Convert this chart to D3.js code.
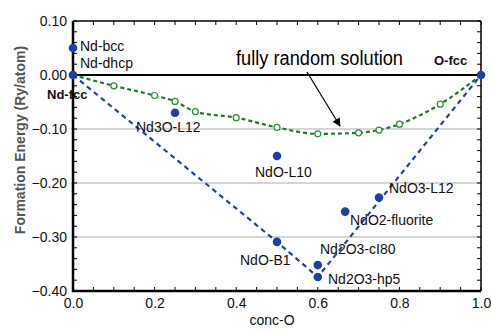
<!DOCTYPE html>
<html><head><meta charset="utf-8">
<script src="https://cdn.jsdelivr.net/npm/d3@7"></script>
<style>body{margin:0;background:#fff}</style>
</head><body>
<svg id="c" width="491" height="331"></svg>
<script>
const xTicks=[0,0.2,0.4,0.6,0.8,1.0];
const yTicks=[0.10,0.00,-0.10,-0.20,-0.30,-0.40];
const gridY=[-0.10,-0.20,-0.30];
const structNames=["Nd-bcc","Nd-dhcp","Nd3O-L12","NdO-L10","NdO-B1","Nd2O3-cI80","Nd2O3-hp5","NdO2-fluorite","NdO3-L12","O-fcc"];
const structX=[0,0,0.25,0.5,0.5,0.6,0.6,0.667,0.75,1.0];
const structE=[0.05,0.0,-0.07,-0.15,-0.309,-0.352,-0.374,-0.253,-0.227,0.0];
const hullX=[0,0.5,0.6,1.0];
const hullE=[0,-0.309,-0.374,0];
const randX=[0,0.1,0.2,0.25,0.3,0.4,0.5,0.6,0.7,0.75,0.8,0.9,1.0];
const randE=[0,-0.02,-0.038,-0.049,-0.068,-0.079,-0.097,-0.109,-0.107,-0.102,-0.091,-0.054,0];

const FONT="'Liberation Sans', Arial, sans-serif";
const svg=d3.select("#c");
const L=73,R=481,T=21,B=291;
const x=d3.scaleLinear().domain([0,1]).range([L,R]);
const y=d3.scaleLinear().domain([-0.4,0.1]).range([B,T]);

// grid
svg.selectAll(".g").data(gridY).enter().append("line")
 .attr("x1",L).attr("x2",R).attr("y1",d=>y(d)).attr("y2",d=>y(d))
 .attr("stroke","#c8c8c8").attr("stroke-width",1.5);
// zero line
svg.append("line").attr("x1",L).attr("x2",R).attr("y1",y(0)).attr("y2",y(0)).attr("stroke","#000").attr("stroke-width",2);

// minor ticks
const xMinor=d3.range(0,1.0001,0.05);
const yMinor=d3.range(-0.4,0.1001,0.02);
const tk=svg.append("g").attr("stroke","#000").attr("stroke-width",1);
xMinor.forEach(v=>{
  tk.append("line").attr("x1",x(v)).attr("x2",x(v)).attr("y1",B).attr("y2",B-4);
  tk.append("line").attr("x1",x(v)).attr("x2",x(v)).attr("y1",T).attr("y2",T+4);
});
yMinor.forEach(v=>{
  tk.append("line").attr("x1",L).attr("x2",L+4).attr("y1",y(v)).attr("y2",y(v));
  tk.append("line").attr("x1",R).attr("x2",R-4).attr("y1",y(v)).attr("y2",y(v));
});

// axes with d3
const xa=svg.append("g").attr("transform",`translate(0,${B})`)
 .call(d3.axisBottom(x).tickValues(xTicks).tickFormat(d3.format(".1f")).tickSize(0).tickPadding(7));
xa.select(".domain").remove();
xa.selectAll("text").style("font-size","14px").style("fill","#111").style("font-family",FONT);
const ya=svg.append("g").attr("transform",`translate(${L},0)`)
 .call(d3.axisLeft(y).tickValues(yTicks).tickFormat(d3.format(".2f")).tickSize(0).tickPadding(6));
ya.select(".domain").remove();
ya.selectAll("text").style("font-size","14px").style("fill","#111").style("font-family",FONT);

// frame
svg.append("line").attr("x1",L).attr("x2",R).attr("y1",T).attr("y2",T).attr("stroke","#000").attr("stroke-width",1.5);
svg.append("line").attr("x1",R).attr("x2",R).attr("y1",T).attr("y2",B).attr("stroke","#000").attr("stroke-width",1.5);
svg.append("line").attr("x1",L).attr("x2",L).attr("y1",T).attr("y2",B+1).attr("stroke","#000").attr("stroke-width",2.5);
svg.append("line").attr("x1",L-1).attr("x2",R).attr("y1",B).attr("y2",B).attr("stroke","#000").attr("stroke-width",2.5);

// random solution curve
const rline=d3.line().x((d,i)=>x(randX[i])).y((d,i)=>y(randE[i])).curve(d3.curveMonotoneX);
svg.append("path").attr("d",rline(randX)).attr("fill","none").attr("stroke","#1e7a2a")
 .attr("stroke-width",2.2).attr("stroke-dasharray","4,3");
svg.selectAll(".rm").data(randX.slice(1,-1)).enter().append("circle")
 .attr("cx",d=>x(d)).attr("cy",(d,i)=>y(randE[i+1])).attr("r",3)
 .attr("fill","#fff").attr("stroke","#2f8a3a").attr("stroke-width",1.2);

// hull
const hline=d3.line().x((d,i)=>x(hullX[i])).y((d,i)=>y(hullE[i]));
svg.append("path").attr("d",hline(hullX)).attr("fill","none").attr("stroke","#2342b0")
 .attr("stroke-width",2.2).attr("stroke-dasharray","5,4");

// points
svg.selectAll(".pt").data(structX).enter().append("circle")
 .attr("cx",d=>x(d)).attr("cy",(d,i)=>y(structE[i])).attr("r",4.3).attr("fill","#1f3fa8");

// labels
const labs=[
 ["Nd-bcc",80,51,false],["Nd-dhcp",80,68,false],["Nd-fcc",47,99,true],
 ["Nd3O-L12",136,132,false],["NdO-L10",255,177,false],["NdO-B1",240,265,false],
 ["Nd2O3-cI80",320,254,false],["Nd2O3-hp5",328,284,false],["NdO2-fluorite",350,225,false],
 ["NdO3-L12",389,193,false],["O-fcc",434,65,true]
];
labs.forEach(l=>{
 svg.append("text").attr("x",l[1]).attr("y",l[2]).text(l[0])
  .style("font-size",(l[3]?13:14)+"px").style("font-weight",l[3]?"bold":"normal").style("fill","#111")
  .style("font-family",FONT);
});
svg.append("text").attr("x",236).attr("y",65).text("fully random solution")
 .attr("textLength",167).attr("lengthAdjust","spacingAndGlyphs")
 .style("font-size","20px").style("fill","#000").style("font-family",FONT);

// arrow
svg.append("defs").append("marker").attr("id","ah").attr("viewBox","0 0 10 10").attr("refX",9).attr("refY",5)
 .attr("markerWidth",7).attr("markerHeight",7).attr("orient","auto")
 .append("path").attr("d","M0,0L10,5L0,10z").attr("fill","#000");
svg.append("line").attr("x1",307).attr("y1",72).attr("x2",340).attr("y2",126)
 .attr("stroke","#000").attr("stroke-width",1.2).attr("marker-end","url(#ah)");

// axis titles
svg.append("text").attr("transform",`translate(25,140) rotate(-90)`).attr("text-anchor","middle")
 .text("Formation Energy (Ry/atom)").style("font-size","14px").style("font-weight","bold").style("fill","#555").style("font-family",FONT);
svg.append("text").attr("x",272).attr("y",325).attr("text-anchor","middle").text("conc-O")
 .style("font-size","14px").style("fill","#111").style("font-family",FONT);
</script>
</body></html>
